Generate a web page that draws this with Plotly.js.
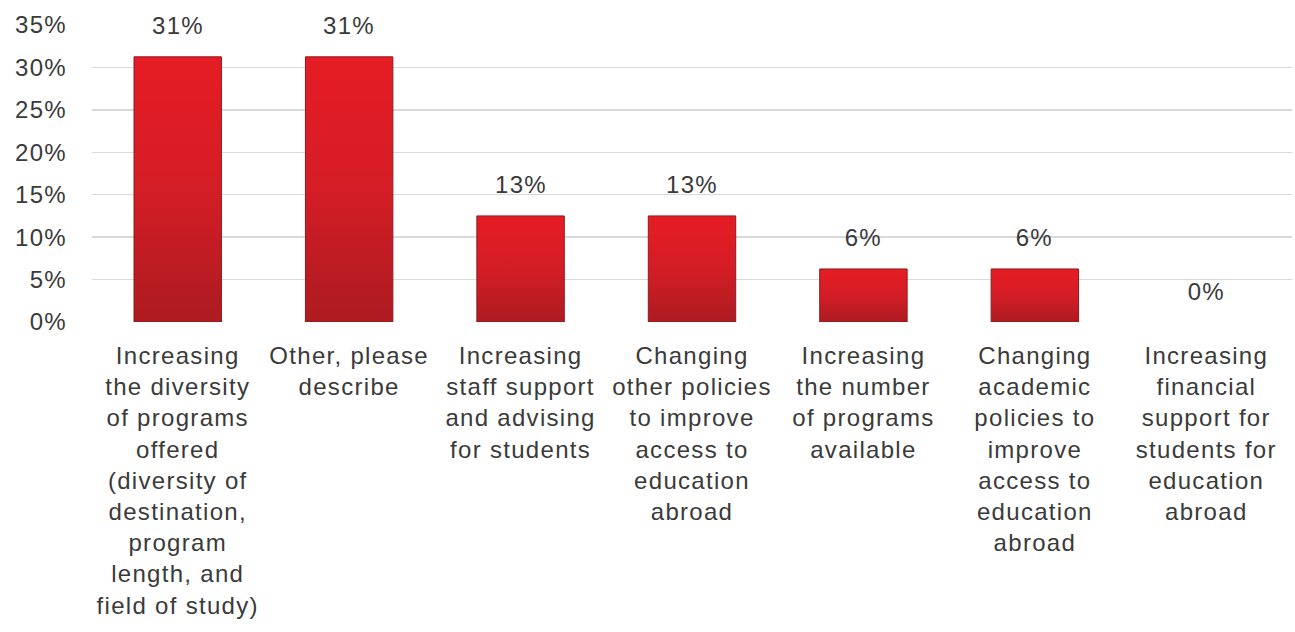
<!DOCTYPE html>
<html>
<head>
<meta charset="utf-8">
<script src="https://cdn.plot.ly/plotly-3.0.1.min.js"></script>
<style>
html,body{margin:0;padding:0;background:#fff;}
#chart{width:1295px;height:632px;}
#chart text{letter-spacing:1.3px;}
</style>
</head>
<body>
<div id="chart"></div>
<script>
const categories = [
  "Increasing<br>the diversity<br>of programs<br>offered<br>(diversity of<br>destination,<br>program<br>length, and<br>field of study)",
  "Other, please<br>describe",
  "Increasing<br>staff support<br>and advising<br>for students",
  "Changing<br>other policies<br>to improve<br>access to<br>education<br>abroad",
  "Increasing<br>the number<br>of programs<br>available",
  "Changing<br>academic<br>policies to<br>improve<br>access to<br>education<br>abroad",
  "Increasing<br>financial<br>support for<br>students for<br>education<br>abroad"
];
const values = [31.25, 31.25, 12.5, 12.5, 6.25, 6.25, 0];
const valueLabels = ["31%", "31%", "13%", "13%", "6%", "6%", "0%"];
const yTickVals = [0, 5, 10, 15, 20, 25, 30, 35];
const yTickText = ["0%", "5%", "10%", "15%", "20%", "25%", "30%", "35%"];

const fontFam = "Liberation Sans, Arial, sans-serif";
const txtColor = "#3a3a3a";

const trace = {
  type: "bar",
  x: categories,
  y: values,
  marker: {
    color: "#cf1f27",
    line: { color: "#8e1a1e", width: values.map(v => v > 0 ? 1 : 0) }
  },
  hoverinfo: "none"
};

const annotations = categories.map((c, i) => ({
  x: c, y: values[i], xref: "x", yref: "y",
  text: valueLabels[i], showarrow: false,
  yanchor: "middle", yshift: 31,
  font: { family: fontFam, size: 24, color: txtColor }
}));

const layout = {
  width: 1295, height: 632,
  margin: { l: 92, r: 3, t: 25, b: 310 },
  paper_bgcolor: "#fff", plot_bgcolor: "#fff",
  bargap: 0.49,
  showlegend: false,
  font: { family: fontFam, size: 24, color: txtColor },
  xaxis: {
    type: "category",
    tickfont: { family: fontFam, size: 24, color: txtColor },
    ticks: "", showgrid: false, zeroline: false, showline: false,
    tickangle: 0, automargin: false, ticklabelstandoff: 17
  },
  yaxis: {
    range: [0, 35],
    tickvals: yTickVals, ticktext: yTickText,
    tickfont: { family: fontFam, size: 24, color: txtColor },
    showgrid: true, gridcolor: "#d9d9d9", gridwidth: 1.5,
    zeroline: false, showline: false, ticks: "",
    ticklabelstandoff: 24, automargin: false
  },
  annotations: annotations
};

Plotly.newPlot("chart", [trace], layout, { displayModeBar: false, staticPlot: true }).then(gd => {
  const svg = gd.querySelector("svg.main-svg");
  const ns = "http://www.w3.org/2000/svg";
  let defs = svg.querySelector("defs");
  if (!defs) { defs = document.createElementNS(ns, "defs"); svg.insertBefore(defs, svg.firstChild); }
  const grad = document.createElementNS(ns, "linearGradient");
  grad.setAttribute("id", "barGrad");
  grad.setAttribute("x1", "0"); grad.setAttribute("y1", "0");
  grad.setAttribute("x2", "0"); grad.setAttribute("y2", "1");
  [["0", "#e61c24"], ["0.5", "#d41d26"], ["1", "#ad1b21"]].forEach(([o, c]) => {
    const s = document.createElementNS(ns, "stop");
    s.setAttribute("offset", o); s.setAttribute("stop-color", c);
    grad.appendChild(s);
  });
  defs.appendChild(grad);
  gd.querySelectorAll(".bars .point path").forEach(p => { p.style.fill = "url(#barGrad)"; });
});
</script>
</body>
</html>
